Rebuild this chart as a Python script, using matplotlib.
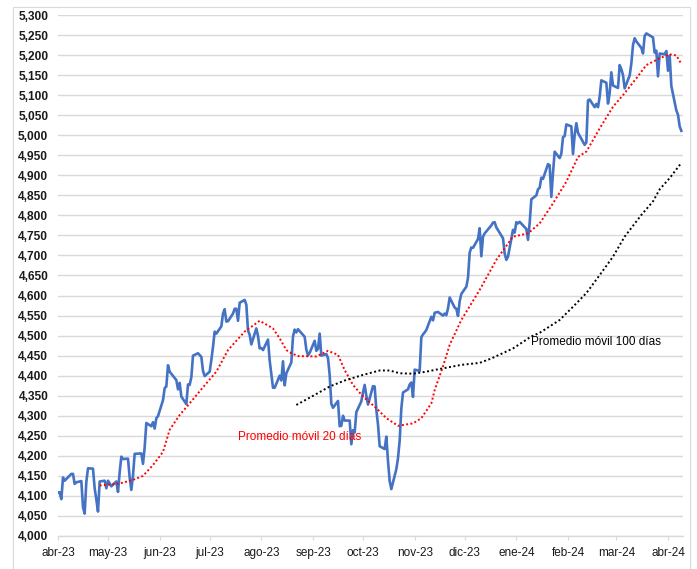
import pandas as pd
import matplotlib
matplotlib.use("Agg")
import matplotlib.pyplot as plt
from matplotlib.patches import Rectangle
from matplotlib.ticker import FuncFormatter

plt.rcParams['font.family'] = ['Liberation Sans', 'DejaVu Sans']

# Daily closes, 10-abr-2023 .. 18-abr-2024 (trading days)
close = [
    # abr-23
    4109, 4109, 4092, 4146, 4138, 4151, 4155, 4155, 4130, 4134, 4137, 4072, 4056, 4135, 4169,
    # may-23
    4168, 4119, 4091, 4061, 4136, 4138, 4119, 4138, 4131, 4124, 4136, 4110, 4159, 4198, 4192,
    4193, 4146, 4115, 4151, 4205, 4206, 4180,
    # jun-23
    4221, 4282, 4274, 4284, 4268, 4294, 4299, 4339, 4369, 4373, 4426, 4410, 4389, 4366, 4382,
    4348, 4329, 4378, 4377, 4396, 4450,
    # jul-23
    4456, 4447, 4412, 4399, 4410, 4439, 4472, 4510, 4505, 4523, 4555, 4566, 4535, 4536, 4555,
    4567, 4567, 4537, 4582, 4589,
    # ago-23
    4577, 4513, 4502, 4478, 4518, 4499, 4468, 4469, 4464, 4490, 4438, 4404, 4370, 4370, 4400,
    4388, 4436, 4376, 4406, 4433, 4498, 4515, 4508,
    # sep-23
    4516, 4497, 4465, 4451, 4457, 4487, 4462, 4467, 4505, 4450, 4454, 4444, 4402, 4330, 4320,
    4337, 4274, 4275, 4300, 4288,
    # oct-23
    4288, 4229, 4264, 4258, 4309, 4336, 4358, 4377, 4350, 4328, 4374, 4373, 4315, 4278, 4224,
    4217, 4248, 4187, 4137, 4117, 4167, 4194,
    # nov-23
    4238, 4318, 4358, 4366, 4378, 4383, 4347, 4415, 4412, 4496, 4503, 4508, 4514, 4547, 4538,
    4557, 4559, 4550, 4555, 4551, 4568,
    # dic-23
    4595, 4570, 4567, 4549, 4586, 4604, 4622, 4644, 4707, 4720, 4719, 4741, 4768, 4698, 4747,
    4755, 4775, 4782, 4783, 4770,
    # ene-24
    4743, 4705, 4689, 4697, 4764, 4757, 4783, 4780, 4784, 4766, 4739, 4781, 4840, 4850, 4865,
    4869, 4894, 4891, 4928, 4925, 4846,
    # feb-24
    4906, 4959, 4943, 4954, 4995, 4998, 5027, 5022, 4953, 5001, 5030, 5006, 4976, 4982, 5087,
    5089, 5070, 5078, 5070, 5096,
    # mar-24
    5137, 5131, 5079, 5105, 5157, 5124, 5118, 5175, 5165, 5150, 5117, 5149, 5179, 5225, 5242,
    5234, 5218, 5204, 5248, 5254,
    # abr-24
    5244, 5206, 5211, 5147, 5204, 5202, 5210, 5161, 5199, 5123, 5062, 5051, 5022, 5011,
]
holidays = ['2023-05-29', '2023-06-19', '2023-07-04', '2023-09-04', '2023-11-23',
            '2023-12-25', '2024-01-01', '2024-01-15', '2024-02-19', '2024-03-29']

# 20-day moving average
ma20_dates = ['2023-05-05', '2023-05-17', '2023-05-25', '2023-05-31', '2023-06-06', '2023-06-12',
              '2023-06-16', '2023-06-22', '2023-06-28', '2023-07-06', '2023-07-14', '2023-07-21',
              '2023-07-31', '2023-08-09', '2023-08-17', '2023-08-21', '2023-08-25', '2023-08-28',
              '2023-09-01', '2023-09-12', '2023-09-19', '2023-09-25', '2023-09-29', '2023-10-04',
              '2023-10-10', '2023-10-18', '2023-10-24', '2023-10-31', '2023-11-09', '2023-11-14',
              '2023-11-20', '2023-11-22', '2023-11-27', '2023-12-01', '2023-12-08', '2023-12-19',
              '2023-12-29', '2024-01-08', '2024-01-17', '2024-01-24', '2024-02-01', '2024-02-09',
              '2024-02-16', '2024-02-21', '2024-02-29', '2024-03-08', '2024-03-15', '2024-03-22',
              '2024-03-28', '2024-04-05', '2024-04-11', '2024-04-15', '2024-04-18']
ma20 = [4126, 4131, 4140, 4150, 4177, 4210,
        4265, 4302, 4331, 4371, 4410, 4464,
        4510, 4537, 4518, 4493, 4464, 4456,
        4449, 4448, 4462, 4452, 4414, 4377,
        4348, 4319, 4294, 4275, 4281, 4294,
        4331, 4364, 4423, 4477, 4539, 4614,
        4689, 4747, 4755, 4780, 4830, 4884,
        4946, 4959, 5017, 5071, 5105, 5142,
        5175, 5192, 5202, 5199, 5178]

# 100-day moving average
ma100_dates = ['2023-08-31', '2023-09-11', '2023-09-20', '2023-09-29', '2023-10-10', '2023-10-20',
               '2023-10-26', '2023-11-01', '2023-11-09', '2023-11-17', '2023-11-24', '2023-12-08',
               '2023-12-19', '2023-12-26', '2024-01-08', '2024-01-19', '2024-01-24', '2024-02-05',
               '2024-02-13', '2024-02-21', '2024-02-29', '2024-03-08', '2024-03-15', '2024-03-25',
               '2024-04-01', '2024-04-05', '2024-04-11', '2024-04-18']
ma100 = [4327, 4352, 4373, 4388, 4402, 4413,
         4413, 4406, 4405, 4410, 4416, 4427,
         4432, 4443, 4468, 4498, 4507, 4539,
         4572, 4606, 4651, 4697, 4747, 4801,
         4835, 4865, 4893, 4931]

tick_dates = ['2023-04-10', '2023-05-10', '2023-06-10', '2023-07-10', '2023-08-10', '2023-09-10',
              '2023-10-10', '2023-11-10', '2023-12-10', '2024-01-10', '2024-02-10', '2024-03-10',
              '2024-04-10']
tick_labels = ['abr-23', 'may-23', 'jun-23', 'jul-23', 'ago-23', 'sep-23', 'oct-23',
               'nov-23', 'dic-23', 'ene-24', 'feb-24', 'mar-24', 'abr-24']

dates = pd.bdate_range('2023-04-10', '2024-04-18', freq='C', holidays=holidays)
n = min(len(dates), len(close))

fig = plt.figure(figsize=(6.97, 5.69), dpi=100)
ax = fig.add_axes([58 / 697, 33 / 569, 625 / 697, 521 / 569])

ax.plot(dates[:n], close[:n], color='#4472C4', lw=1.9, solid_joinstyle='round', zorder=3)
ax.plot(pd.to_datetime(ma20_dates), ma20, color='#FF0000', lw=1.4, ls=(0, (1, 1.2)), zorder=4)
ax.plot(pd.to_datetime(ma100_dates), ma100, color='black', lw=1.4, ls=(0, (1, 1.3)), zorder=4)

ax.text(pd.Timestamp('2023-07-27'), 4247, 'Promedio móvil 20 días', color='#FF0000',
        fontsize=8.5, ha='left', va='center')
ax.text(pd.Timestamp('2024-01-19'), 4485, 'Promedio móvil 100 días', color='black',
        fontsize=8.5, ha='left', va='center')

ax.set_ylim(4000, 5300)
ax.set_yticks(range(4000, 5301, 50))
ax.yaxis.set_major_formatter(FuncFormatter(lambda v, p: f'{v:,.0f}'))
ax.set_xlim(pd.Timestamp('2023-04-10'), pd.Timestamp('2024-04-19'))
ax.set_xticks(pd.to_datetime(tick_dates))
ax.set_xticklabels(tick_labels)

ax.yaxis.grid(True, color='#d9d9d9', lw=1.0)
ax.set_axisbelow(True)
for s in ['top', 'right', 'left']:
    ax.spines[s].set_visible(False)
ax.spines['bottom'].set_color('#d9d9d9')
ax.spines['bottom'].set_linewidth(1.0)

ax.tick_params(axis='x', length=3, color='#d9d9d9', pad=5, labelsize=8.5, labelcolor='#1a1a1a')
ax.tick_params(axis='y', length=0, pad=7, labelsize=8.6, labelcolor='#1a1a1a')
for lab in ax.get_yticklabels():
    lab.set_fontweight('bold')

# chart frame
fig.add_artist(Rectangle((12.5 / 697, -0.05), (690 - 12.5) / 697, (569 - 7) / 569 + 0.05,
                         transform=fig.transFigure, fill=False, edgecolor='#d9d9d9', lw=0.8))

fig.savefig('out.png', dpi=100)
